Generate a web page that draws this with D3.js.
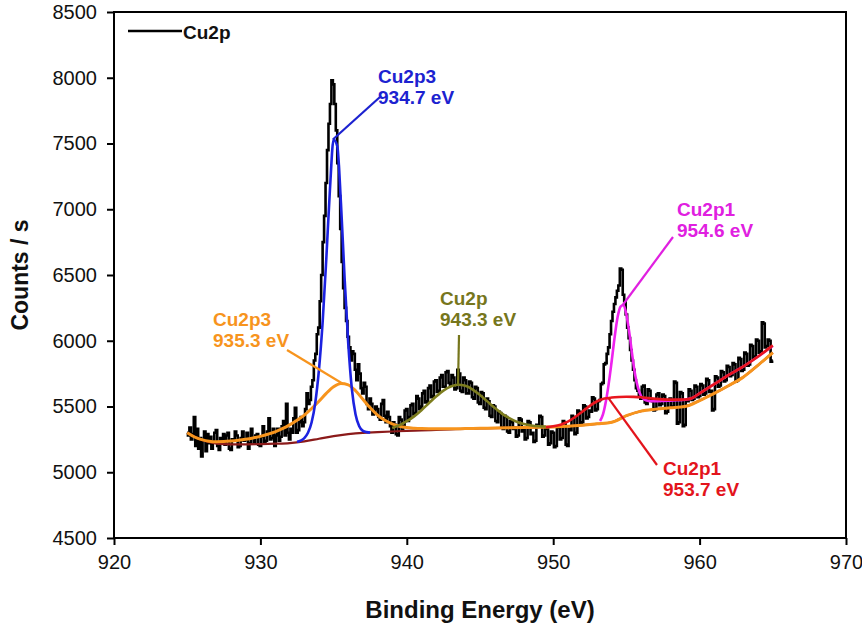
<!DOCTYPE html>
<html>
<head>
<meta charset="utf-8">
<script src="https://cdn.jsdelivr.net/npm/d3@7/dist/d3.min.js"></script>
<style>
  html, body { margin: 0; padding: 0; background: #fff; }
  svg { display: block; font-family: "Liberation Sans", Arial, sans-serif; }
</style>
</head>
<body>
<svg id="chart" width="862" height="635"></svg>
<script>
// ---------------- DATA ----------------
const xTicks = [920, 930, 940, 950, 960, 970];
const yTicks = [4500, 5000, 5500, 6000, 6500, 7000, 7500, 8000, 8500];

// measured spectrum (Cu2p), starting at 925.0 eV, 0.1 eV per point
const spectrumStart = 925.0;
const spectrumStep = 0.1;
const spectrumCounts = [
  5300,5280,5340,5250,5290,5420,5200,5330,5180,5260,
  5120,5240,5310,5160,5290,5220,5270,5180,5230,5300,
  5320,5200,5170,5260,5230,5290,5210,5280,5300,5180,
  5170,5250,5240,5310,5280,5190,5200,5260,5310,5240,
  5250,5300,5180,5220,5330,5260,5220,5280,5290,5210,
  5200,5270,5350,5230,5240,5310,5410,5250,5260,5330,
  5200,5280,5330,5240,5270,5350,5390,5280,5520,5300,
  5250,5330,5300,5410,5490,5300,5320,5380,5420,5350,
  5380,5480,5600,5520,5550,5650,5700,5850,5900,6050,
  6100,6300,6500,6750,6950,7200,7450,7650,7800,7980,
  7950,7800,7600,7350,7100,6850,6600,6400,6250,6150,
  6030,5950,5850,5920,5900,5780,5700,5820,5750,5640,
  5600,5680,5650,5520,5480,5560,5520,5440,5460,5500,
  5480,5420,5400,5520,5550,5430,5380,5460,5420,5350,
  5300,5380,5360,5290,5280,5420,5400,5330,5350,5470,
  5480,5390,5420,5510,5520,5440,5450,5580,5560,5480,
  5500,5600,5620,5530,5540,5640,5660,5570,5580,5690,
  5700,5610,5620,5720,5740,5650,5650,5760,5770,5680,
  5660,5740,5720,5630,5640,5780,5750,5620,5610,5720,
  5700,5600,5600,5690,5680,5570,5560,5650,5640,5530,
  5520,5610,5600,5490,5480,5560,5540,5430,5420,5510,
  5500,5390,5380,5460,5450,5340,5330,5430,5420,5310,
  5300,5390,5380,5330,5340,5270,5280,5410,5400,5310,
  5320,5250,5260,5390,5380,5290,5300,5230,5240,5360,
  5350,5430,5420,5270,5280,5340,5330,5210,5220,5310,
  5300,5190,5200,5350,5340,5250,5260,5390,5380,5210,
  5200,5330,5320,5430,5420,5290,5300,5470,5460,5370,
  5380,5510,5500,5410,5420,5470,5460,5570,5560,5470,
  5480,5540,5550,5670,5680,5820,5830,5900,5950,6050,
  6150,6220,6280,6330,6380,6420,6550,6540,6350,6300,
  6200,6100,6020,5930,5850,5780,5700,5640,5620,5580,
  5560,5650,5660,5530,5520,5630,5620,5550,5540,5470,
  5480,5590,5600,5510,5520,5590,5580,5450,5460,5550,
  5560,5490,5500,5690,5680,5370,5380,5610,5600,5350,
  5360,5550,5540,5630,5620,5550,5560,5660,5650,5570,
  5580,5670,5660,5590,5600,5710,5700,5610,5620,5470,
  5480,5730,5720,5650,5660,5770,5760,5690,5700,5810,
  5800,5730,5740,5830,5820,5690,5700,5870,5860,5770,
  5780,5910,5900,5810,5820,5970,5960,5870,5880,6010,
  6000,5910,5920,6140,6130,5950,5960,6010,6000,5840,
  5850
];

// Shirley background
const bgEnergy = [925,926,927,928,929,930,931,932,933,934,935,936,937,938,939,940,941,942,943,944,945,
                  946,947,948,949,950,951,952,953,954,955,956,957,958,959,960,961,962,963,964,965];
const bgCounts = [5300,5245,5218,5212,5212,5214,5217,5222,5235,5255,5275,5290,5300,5305,5310,5315,5318,5322,5326,5330,5333,
                  5336,5338,5340,5342,5345,5350,5358,5368,5380,5430,5465,5480,5490,5500,5545,5600,5660,5725,5815,5910];

// Cu2p3 935.3 eV (orange)
const orangeEnergy = [925,925.5,926,926.5,927,927.5,928,928.5,929,929.5,930,930.5,931,931.5,932,932.5,933,933.5,934,934.5,
                      935,935.5,936,936.5,937,937.5,938,938.5,939,939.5,940,940.5,941,942,943,944,945,946,947,948,949,950,
                      951,952,953,954,955,956,957,958,959,960,961,962,963,964,965];
const orangeCounts = [5300,5268,5248,5236,5232,5233,5237,5243,5251,5261,5273,5289,5307,5331,5360,5395,5435,5485,5540,5600,
                      5650,5675,5665,5620,5555,5490,5435,5395,5368,5350,5340,5335,5332,5330,5330,5332,5334,5336,5338,5340,5342,5345,
                      5350,5358,5368,5380,5430,5465,5480,5490,5500,5545,5600,5660,5725,5815,5910];

// Cu2p3 934.7 eV (blue)
const blueEnergy = [932.5,932.75,933,933.25,933.5,933.75,934,934.25,934.5,934.75,935,935.25,935.5,935.75,936,936.25,936.5,936.75,937,937.25,937.5];
const blueCounts = [5232,5240,5260,5300,5380,5530,5780,6140,6620,7150,7530,7480,7050,6480,5980,5630,5440,5350,5315,5305,5302];

// Cu2p satellite 943.3 eV (olive)
const oliveEnergy = [939,939.5,940,940.5,941,941.5,942,942.5,943,943.5,944,944.5,945,945.5,946,946.5,947,947.5,948,948.5,949,949.5];
const oliveCounts = [5337,5358,5388,5425,5472,5524,5576,5621,5652,5665,5657,5629,5587,5539,5490,5446,5411,5384,5367,5356,5350,5348];

// Cu2p1 953.7 eV (red)
const redEnergy = [949.5,950,950.5,951,951.5,952,952.5,953,953.5,954,954.5,955,955.5,956,956.5,957,957.5,958,958.5,959,959.5,960,961,962,963,964,965];
const redCounts = [5344,5350,5362,5385,5420,5462,5505,5540,5560,5568,5572,5574,5573,5570,5564,5558,5554,5552,5552,5553,5565,5600,5670,5740,5805,5880,5965];

// Cu2p1 954.6 eV (magenta)
const magentaEnergy = [953.2,953.4,953.6,953.8,954,954.2,954.4,954.6,954.8,955,955.2,955.4,955.6,955.8,956,956.2,956.4,956.6,957,957.5,958,958.5,959,959.5,960,961,962,963,964,965];
const magentaCounts = [5390,5440,5540,5680,5850,6030,6180,6260,6272,6200,6060,5890,5740,5640,5580,5555,5545,5540,5540,5542,5545,5548,5552,5565,5600,5670,5740,5805,5880,5960];

// peak annotations
const annTitles  = ["Cu2p3", "Cu2p3", "Cu2p", "Cu2p1", "Cu2p1"];
const annValues  = ["934.7 eV", "935.3 eV", "943.3 eV", "954.6 eV", "953.7 eV"];
const annPeakE   = [934.95, 935.6, 943.5, 954.75, 953.8];
const annPeakV   = [7530, 5675, 5665, 6272, 5560];

// ---------------- LAYOUT ----------------
const svg = d3.select("#chart");
const L = 114, R = 846, T = 12, B = 538;
const x = d3.scaleLinear().domain([920, 970]).range([L, R]);
const y = d3.scaleLinear().domain([4500, 8500]).range([B, T]);

const colors = {
  data: "#000000", bg: "#8b1a1a", orange: "#f7941d", blue: "#1c22e0",
  olive: "#7d7d1e", red: "#e8161e", magenta: "#ee22ee"
};
const annColors = ["#1c22d0", "#f7941d", "#76761c", "#e020e0", "#e3141c"];
const annLabelPos = [[378, 83], [213, 326], [440, 305], [677, 216], [663, 475]];
const annLeaderEnd = [[380, 97], [287, 350], [459, 335], [673, 237], [657, 465]];

// frame
svg.append("rect").attr("x", L).attr("y", T).attr("width", R - L).attr("height", B - T)
  .attr("fill", "none").attr("stroke", "#000").attr("stroke-width", 2);

// axes
const xAxis = d3.axisBottom(x).tickValues(xTicks).tickSize(7).tickPadding(10).tickFormat(d3.format("d"));
const gx = svg.append("g").attr("transform", `translate(0,${B})`).call(xAxis);
gx.select(".domain").remove();
gx.selectAll("line").attr("stroke", "#000").attr("stroke-width", 2);
gx.selectAll("text").attr("font-size", 20).attr("fill", "#111").attr("font-family", "Liberation Sans, Arial, sans-serif");

const yAxis = d3.axisLeft(y).tickValues(yTicks).tickSize(7).tickPadding(10).tickFormat(d3.format("d"));
const gy = svg.append("g").attr("transform", `translate(${L},0)`).call(yAxis);
gy.select(".domain").remove();
gy.selectAll("line").attr("stroke", "#000").attr("stroke-width", 2);
gy.selectAll("text").attr("font-size", 20).attr("fill", "#111").attr("font-family", "Liberation Sans, Arial, sans-serif");

// axis titles
svg.append("text").attr("x", 480).attr("y", 618).attr("text-anchor", "middle")
  .attr("font-size", 24).attr("font-weight", "bold").attr("fill", "#111").text("Binding Energy (eV)");
svg.append("text").attr("transform", `translate(28,${(T + B) / 2}) rotate(-90)`).attr("text-anchor", "middle")
  .attr("font-size", 23).attr("font-weight", "bold").attr("fill", "#111").text("Counts / s");

// data
const spectrum = spectrumCounts.map((v, i) => [spectrumStart + i * spectrumStep, v]);
const plot = svg.append("g");
plot.append("path").datum(spectrum)
  .attr("d", d3.line().x(d => x(d[0])).y(d => y(d[1])).curve(d3.curveStep))
  .attr("fill", "none").attr("stroke", colors.data).attr("stroke-width", 2.6).attr("stroke-linejoin", "miter");

const smooth = d3.line().x(d => x(d[0])).y(d => y(d[1])).curve(d3.curveMonotoneX);
function fit(E, V, color, w) {
  plot.append("path").datum(E.map((e, i) => [e, V[i]]))
    .attr("d", smooth).attr("fill", "none").attr("stroke", color).attr("stroke-width", w);
}
fit(bgEnergy, bgCounts, colors.bg, 2.2);
fit(orangeEnergy, orangeCounts, colors.orange, 3);
fit(oliveEnergy, oliveCounts, colors.olive, 2.6);
fit(blueEnergy, blueCounts, colors.blue, 2.6);
fit(magentaEnergy, magentaCounts, colors.magenta, 2.6);
fit(redEnergy, redCounts, colors.red, 2.6);

// annotations
annTitles.forEach((t, i) => {
  svg.append("line")
    .attr("x1", annLeaderEnd[i][0]).attr("y1", annLeaderEnd[i][1])
    .attr("x2", x(annPeakE[i])).attr("y2", y(annPeakV[i]))
    .attr("stroke", annColors[i]).attr("stroke-width", 2.2);
  const g = svg.append("text").attr("x", annLabelPos[i][0]).attr("y", annLabelPos[i][1])
    .attr("font-size", 19).attr("font-weight", "bold").attr("fill", annColors[i]);
  g.append("tspan").attr("x", annLabelPos[i][0]).text(t);
  g.append("tspan").attr("x", annLabelPos[i][0]).attr("dy", 21).text(annValues[i]);
});

// legend
svg.append("line").attr("x1", 128).attr("x2", 182).attr("y1", 31).attr("y2", 31)
  .attr("stroke", "#000").attr("stroke-width", 2.4);
svg.append("text").attr("x", 183).attr("y", 39).attr("font-size", 19).attr("font-weight", "bold")
  .attr("fill", "#111").text("Cu2p");
</script>
</body>
</html>
